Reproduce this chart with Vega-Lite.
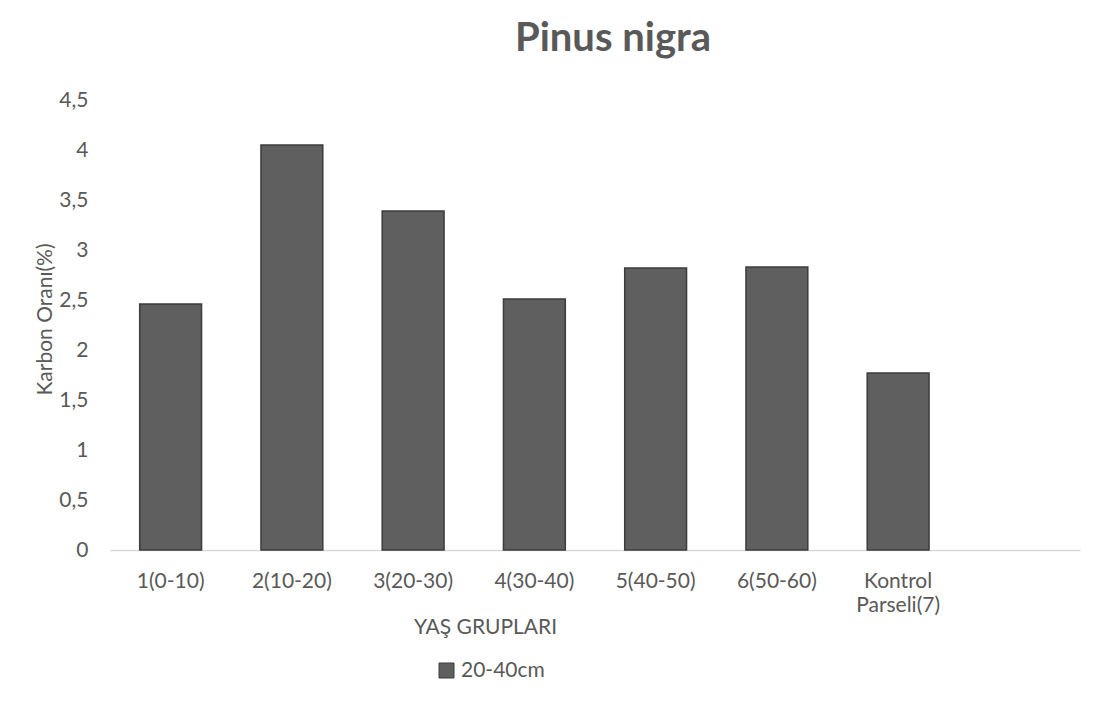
{
  "$schema": "https://vega.github.io/schema/vega-lite/v6.json",
  "autosize": {"type": "none"},
  "width": 970,
  "height": 450,
  "padding": {"left": 110, "top": 100, "right": 29, "bottom": 163},
  "background": "white",
  "title": {
    "text": "Pinus nigra",
    "font": "Lato",
    "fontSize": 40,
    "fontWeight": "bold",
    "color": "#595959",
    "anchor": "middle",
    "dx": 18,
    "offset": 30
  },
  "data": {
    "values": [
      {"grup": "1(0-10)", "deger": 2.46, "seri": "20-40cm"},
      {"grup": "2(10-20)", "deger": 4.05, "seri": "20-40cm"},
      {"grup": "3(20-30)", "deger": 3.39, "seri": "20-40cm"},
      {"grup": "4(30-40)", "deger": 2.51, "seri": "20-40cm"},
      {"grup": "5(40-50)", "deger": 2.82, "seri": "20-40cm"},
      {"grup": "6(50-60)", "deger": 2.83, "seri": "20-40cm"},
      {"grup": "Kontrol Parseli(7)", "deger": 1.77, "seri": "20-40cm"}
    ]
  },
  "mark": {"type": "bar", "stroke": "#3c3c3c", "strokeWidth": 1.5},
  "encoding": {
    "x": {
      "field": "grup",
      "type": "nominal",
      "scale": {
        "domain": ["1(0-10)", "2(10-20)", "3(20-30)", "4(30-40)", "5(40-50)", "6(50-60)", "Kontrol Parseli(7)", " "],
        "paddingInner": 0.49,
        "paddingOuter": 0.245
      },
      "axis": {
        "title": "YAŞ GRUPLARI",
        "titleFont": "Lato",
        "titleFontSize": 21,
        "titleFontWeight": "normal",
        "titleColor": "#595959",
        "titleX": 375,
        "titleY": 77,
        "titleBaseline": "middle",
        "titleAlign": "center",
        "labelAngle": 0,
        "labelFont": "Lato",
        "labelFontSize": 21,
        "labelColor": "#595959",
        "labelPadding": 20,
        "labelLineHeight": 24,
        "labelExpr": "datum.value == 'Kontrol Parseli(7)' ? ['Kontrol', 'Parseli(7)'] : datum.value",
        "ticks": false,
        "domainColor": "#d9d9d9",
        "domainWidth": 1.5,
        "grid": false
      }
    },
    "y": {
      "field": "deger",
      "type": "quantitative",
      "scale": {"domain": [0, 4.5], "nice": false},
      "axis": {
        "title": "Karbon Oranı(%)",
        "titleFont": "Lato",
        "titleFontSize": 21,
        "titleFontWeight": "normal",
        "titleColor": "#595959",
        "titleX": -65,
        "titleY": 219,
        "titleAngle": -90,
        "titleAlign": "center",
        "titleBaseline": "middle",
        "values": [0, 0.5, 1, 1.5, 2, 2.5, 3, 3.5, 4, 4.5],
        "labelExpr": "replace(format(datum.value, '~g'), '.', ',')",
        "labelFont": "Lato",
        "labelFontSize": 21,
        "labelColor": "#595959",
        "labelPadding": 22,
        "ticks": false,
        "domain": false,
        "grid": false
      }
    },
    "color": {
      "field": "seri",
      "type": "nominal",
      "scale": {"range": ["#5f5f5f"]},
      "legend": {
        "title": null,
        "orient": "none",
        "legendX": 326,
        "legendY": 560,
        "symbolType": "square",
        "symbolSize": 225,
        "symbolStrokeColor": "#3c3c3c",
        "symbolStrokeWidth": 1,
        "labelFont": "Lato",
        "labelFontSize": 21,
        "labelColor": "#595959",
        "labelOffset": 4
      }
    }
  },
  "config": {"view": {"stroke": null}}
}
